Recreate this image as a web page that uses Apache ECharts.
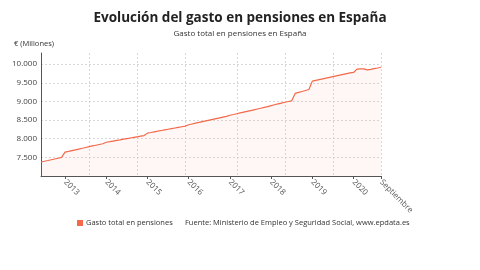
<!DOCTYPE html>
<html>
<head>
<meta charset="utf-8">
<script src="https://cdn.jsdelivr.net/npm/echarts@6/dist/echarts.min.js"></script>
<style>html,body{margin:0;padding:0;background:#fff}#c{width:480px;height:270px}</style>
</head>
<body>
<div id="c"></div>
<script>
// Months from June 2012 to September 2020
var monthNames = ['Enero','Febrero','Marzo','Abril','Mayo','Junio','Julio','Agosto','Septiembre','Octubre','Noviembre','Diciembre'];
var categories = [];
(function(){
  var y = 2012, m = 5;
  while (!(y === 2020 && m === 9)) {
    categories.push(monthNames[m] + ' ' + y);
    m++; if (m === 12) { m = 0; y++; }
  }
})();

var gasto = [
  7376, 7395, 7415, 7436, 7456, 7476, 7500,
  7640, 7660, 7681, 7702, 7723, 7744, 7765, 7786, 7806, 7826, 7846, 7866,
  7905, 7920, 7937, 7954, 7970, 7987, 8004, 8020, 8036, 8052, 8068, 8084,
  8150, 8167, 8185, 8202, 8220, 8237, 8254, 8271, 8288, 8305, 8322, 8339,
  8375, 8396, 8417, 8437, 8458, 8478, 8498, 8518, 8538, 8558, 8578, 8598,
  8630, 8650, 8671, 8692, 8713, 8734, 8755, 8776, 8797, 8818, 8839, 8860,
  8890, 8912, 8934, 8956, 8978, 8998, 9016, 9215, 9242, 9268, 9295, 9322,
  9546, 9566, 9586, 9606, 9626, 9646, 9666, 9686, 9706, 9726, 9746, 9766,
  9778, 9868, 9872, 9874, 9846, 9862, 9880, 9898, 9918
];

// Tick labels: category index -> label
var tickIndex = [7, 19, 31, 43, 55, 67, 79, 91, 99];
var tickLabels = ['2013', '2014', '2015', '2016', '2017', '2018', '2019', '2020', 'Septiembre'];
var gridIndex = [14, 28, 42, 57, 71, 85, 99];

var seriesName = 'Gasto total en pensiones';
var titleText = 'Evolución del gasto en pensiones en España';
var subtitleText = 'Gasto total en pensiones en España';
var unitText = '€ (Millones)';
var sourceText = 'Fuente: Ministerio de Empleo y Seguridad Social, www.epdata.es';

var FONT = '"Open Sans", "Noto Sans", sans-serif';
function fmt(v) { return Math.floor(v / 1000) + '.' + ('00' + (v % 1000)).slice(-3); }

var chart = echarts.init(document.getElementById('c'));
chart.setOption({
  animation: false,
  textStyle: { fontFamily: FONT },
  title: {
    text: titleText,
    subtext: subtitleText,
    left: 'center',
    top: 6,
    itemGap: 5,
    textStyle: { fontFamily: FONT, fontSize: 13.5, fontWeight: 'bold', color: '#222' },
    subtextStyle: { fontFamily: FONT, fontSize: 8, color: '#333' }
  },
  legend: {
    left: 77,
    top: 219,
    padding: 0,
    itemWidth: 6,
    itemHeight: 6,
    itemGap: 4,
    icon: 'rect',
    textStyle: { fontFamily: FONT, fontSize: 7.5, color: '#333', padding: [0, 0, 0, -2] },
    data: [seriesName]
  },
  graphic: [
    { type: 'text', left: 14, top: 40, style: { text: unitText, font: '7.5px ' + FONT, fill: '#333' } },
    { type: 'text', left: 185, top: 219, style: { text: sourceText, font: '7.5px ' + FONT, fill: '#333' } }
  ],
  grid: { left: 41, right: 99, top: 53, bottom: 94, containLabel: false },
  xAxis: {
    type: 'category',
    boundaryGap: false,
    data: categories,
    axisLine: { lineStyle: { color: '#555' } },
    axisTick: {
      show: true, length: 3, lineStyle: { color: '#555' },
      interval: function (i) { return tickIndex.indexOf(i) >= 0; }
    },
    axisLabel: {
      rotate: -45,
      fontSize: 8,
      color: '#555',
      margin: 5,
      interval: function (i) { return tickIndex.indexOf(i) >= 0; },
      formatter: function (v, i) { var k = tickIndex.indexOf(i); return k >= 0 ? tickLabels[k] : ''; }
    },
    splitLine: {
      show: true,
      interval: function (i) { return gridIndex.indexOf(i) >= 0; },
      lineStyle: { color: '#d8d8d8', type: [2, 2] }
    }
  },
  yAxis: {
    type: 'value',
    min: 7000,
    max: 10300,
    interval: 500,
    axisLine: { show: true, lineStyle: { color: '#555' } },
    axisTick: { show: false },
    axisLabel: {
      fontSize: 8,
      color: '#444',
      margin: 4,
      showMinLabel: false,
      showMaxLabel: false,
      formatter: function (v) {
        if (v === 7000 || v % 500 !== 0) return '';
        return fmt(v);
      }
    },
    splitLine: {
      show: true,
      showMinLine: false,
      showMaxLine: false,
      lineStyle: { color: '#d8d8d8', type: [2, 2] }
    }
  },
  series: [{
    name: seriesName,
    type: 'line',
    data: gasto,
    symbol: 'none',
    lineStyle: { color: '#f4694a', width: 1.2 },
    itemStyle: { color: '#f4694a' },
    areaStyle: { color: 'rgba(244,105,74,0.08)' }
  }]
});
</script>
</body>
</html>
